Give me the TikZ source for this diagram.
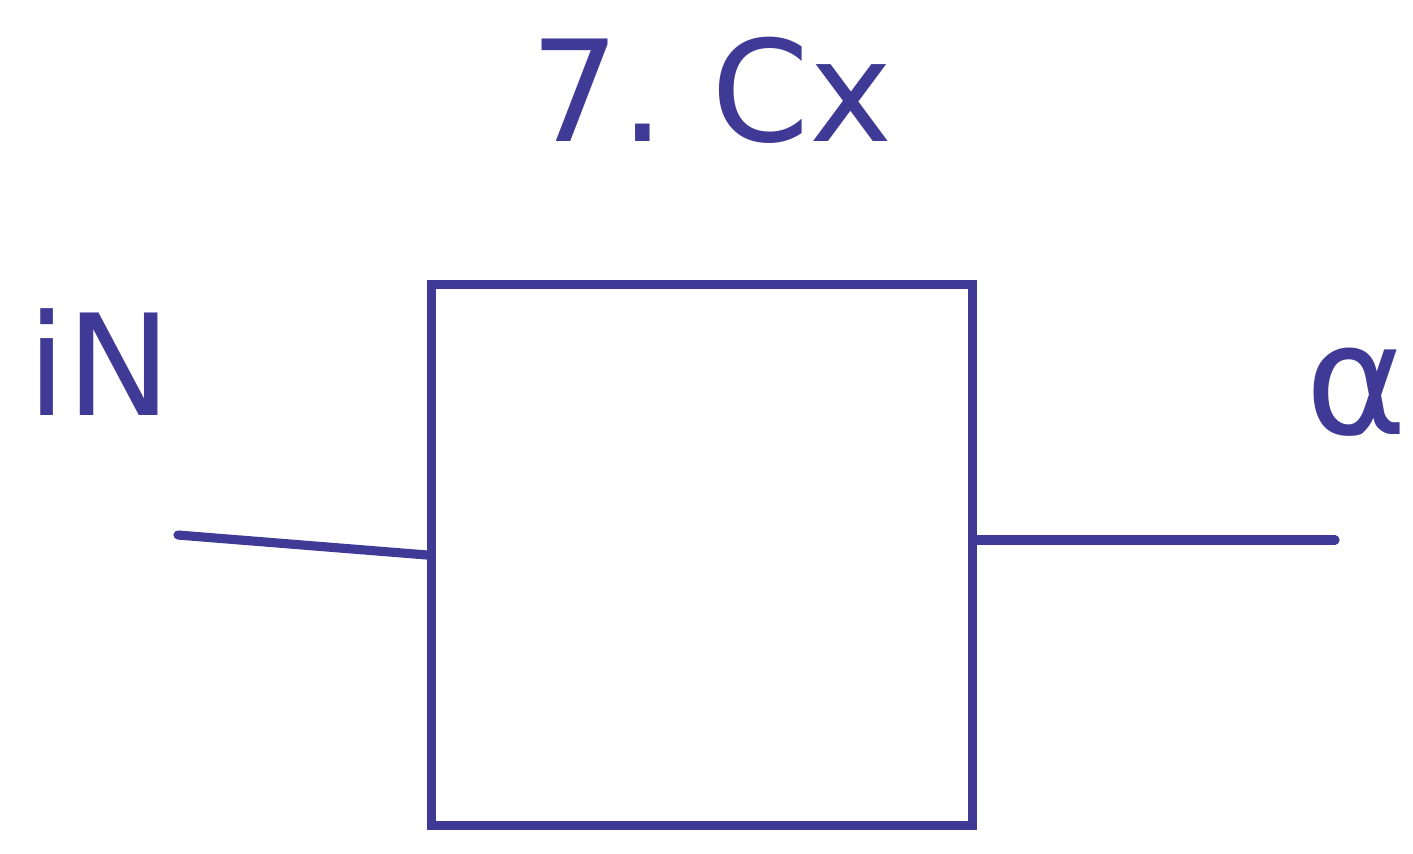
\documentclass[tikz,border=0pt]{standalone}
\usepackage{fontspec}
\setmainfont{DejaVu Sans}
\usepackage{tikz}
\definecolor{ink}{RGB}{62,58,150}
\tikzset{
    wire/.style={draw=ink, line width=2.6pt, line cap=round},
    label/.style={text=ink, inner sep=0pt}
}

\begin{document}
\begin{tikzpicture}[x=0.01cm, y=-0.01cm]
        \useasboundingbox (0,0) rectangle (1413,853);
        \node[label, font=\fontsize{40}{48}\selectfont] (title) at (712,90) {7.\,\,Cx};
        \node[label, font=\fontsize{40}{48}\selectfont] (in) at (100,362) {iN};
        \node[label, font=\fontsize{44}{50}\selectfont, anchor=east] (out) at (1408,392) {α};

        \node[wire, rectangle, minimum width=5.4cm, minimum height=5.4cm] (box) at (702,555) {};

        \coordinate (inL) at (178,535);
        \coordinate (outR) at (1335,540);

        \draw[wire] (inL) -- (box.west);
        \draw[wire] (box.east |- outR) -- (outR);
        \end{tikzpicture}
\end{document}
